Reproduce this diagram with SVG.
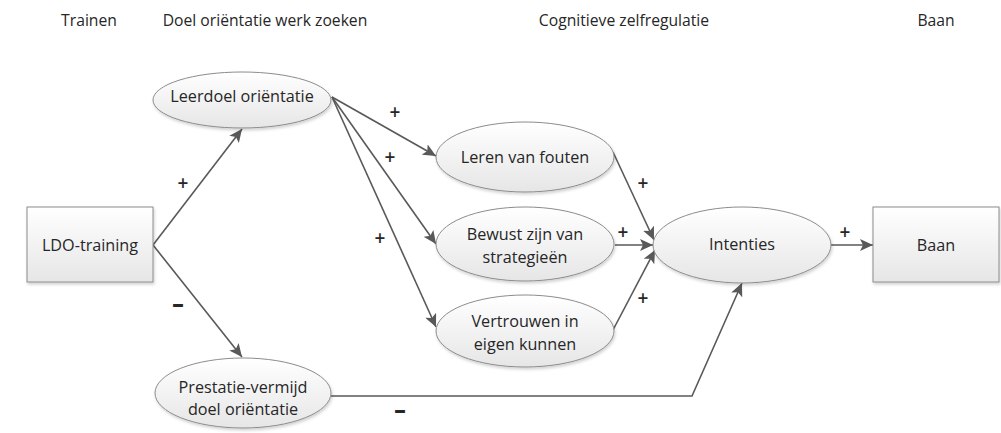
<svg xmlns="http://www.w3.org/2000/svg" width="1001" height="433" viewBox="0 0 1001 433">
<defs>
<linearGradient id="g" x1="0" y1="0" x2="0" y2="1">
<stop offset="0" stop-color="#ffffff"/>
<stop offset="1" stop-color="#e6e6e6"/>
</linearGradient>
<marker id="ah" markerUnits="userSpaceOnUse" markerWidth="14" markerHeight="12" refX="13" refY="6" orient="auto">
<path d="M0,0 L13,6 L0,12 L3,6 Z" fill="#595959"/>
</marker>
<filter id="sh" x="-10%" y="-10%" width="130%" height="140%">
<feDropShadow dx="1" dy="2" stdDeviation="1.5" flood-color="#000" flood-opacity="0.18"/>
</filter>
</defs>
<style>
.n{fill:url(#g);stroke:#8c8c8c;stroke-width:1;filter:url(#sh)}
.t{font-family:"Open Sans","Noto Sans",sans-serif;font-size:16.2px;fill:#262626;text-anchor:middle}
.h{font-family:"Open Sans","Noto Sans",sans-serif;font-size:15.7px;fill:#262626;text-anchor:middle}
.s{font-family:"Open Sans","Noto Sans",sans-serif;font-size:19px;font-weight:600;fill:#262626;text-anchor:middle}
.m{font-family:"Open Sans","Noto Sans",sans-serif;font-size:23px;font-weight:800;fill:#262626;text-anchor:middle}
.c{fill:none;stroke:#595959;stroke-width:1.6;marker-end:url(#ah)}
</style>
<g id="headers">
<text class="h" x="89" y="26">Trainen</text>
<text class="h" x="265" y="26">Doel oriëntatie werk zoeken</text>
<text class="h" x="624" y="26">Cognitieve zelfregulatie</text>
<text class="h" x="936" y="26">Baan</text>
</g>
<g id="connectors">
<path class="c" d="M153,245 L242,129"/>
<path class="c" d="M153,245 L242,357"/>
<path class="c" d="M332,97 L436,156"/>
<path class="c" d="M332,97 L436,244"/>
<path class="c" d="M332,97 L436,327"/>
<path class="c" d="M613,152 L654,240"/>
<path class="c" d="M615,245 L653,245"/>
<path class="c" d="M613,330 L655,250"/>
<path class="c" d="M331,396 L692,396 L742,283"/>
<path class="c" d="M830,245 L873,245"/>
</g>
<g id="labels">
<text class="s" x="183" y="190">+</text>
<text class="s" x="395" y="119">+</text>
<text class="s" x="390" y="164">+</text>
<text class="s" x="380" y="245">+</text>
<text class="s" x="643" y="190">+</text>
<text class="s" x="623" y="239">+</text>
<text class="s" x="643" y="305">+</text>
<text class="s" x="845" y="239">+</text>
<text class="m" x="178" y="312">–</text>
<text class="m" x="400" y="418">–</text>
</g>
<g id="ldo-training">
<rect class="n" x="27" y="207" width="126" height="75"/>
<text class="t" x="90" y="251">LDO-training</text>
</g>
<g id="leerdoel">
<ellipse class="n" cx="242" cy="100" rx="89" ry="28"/>
<text class="t" x="242" y="102">Leerdoel oriëntatie</text>
</g>
<g id="prestatie">
<ellipse class="n" cx="243" cy="393" rx="88" ry="35"/>
<text class="t" x="243" y="393">Prestatie-vermijd</text>
<text class="t" x="243" y="415">doel oriëntatie</text>
</g>
<g id="leren">
<ellipse class="n" cx="525" cy="157" rx="89" ry="35"/>
<text class="t" x="525" y="163">Leren van fouten</text>
</g>
<g id="bewust">
<ellipse class="n" cx="525" cy="244" rx="89" ry="37"/>
<text class="t" x="525" y="240">Bewust zijn van</text>
<text class="t" x="525" y="263">strategieën</text>
</g>
<g id="vertrouwen">
<ellipse class="n" cx="525" cy="331" rx="89" ry="36"/>
<text class="t" x="525" y="327">Vertrouwen in</text>
<text class="t" x="525" y="350">eigen kunnen</text>
</g>
<g id="intenties">
<ellipse class="n" cx="742" cy="245" rx="89" ry="38"/>
<text class="t" x="742" y="250">Intenties</text>
</g>
<g id="baan">
<rect class="n" x="873" y="207" width="126" height="75"/>
<text class="t" x="936" y="251">Baan</text>
</g>
</svg>
